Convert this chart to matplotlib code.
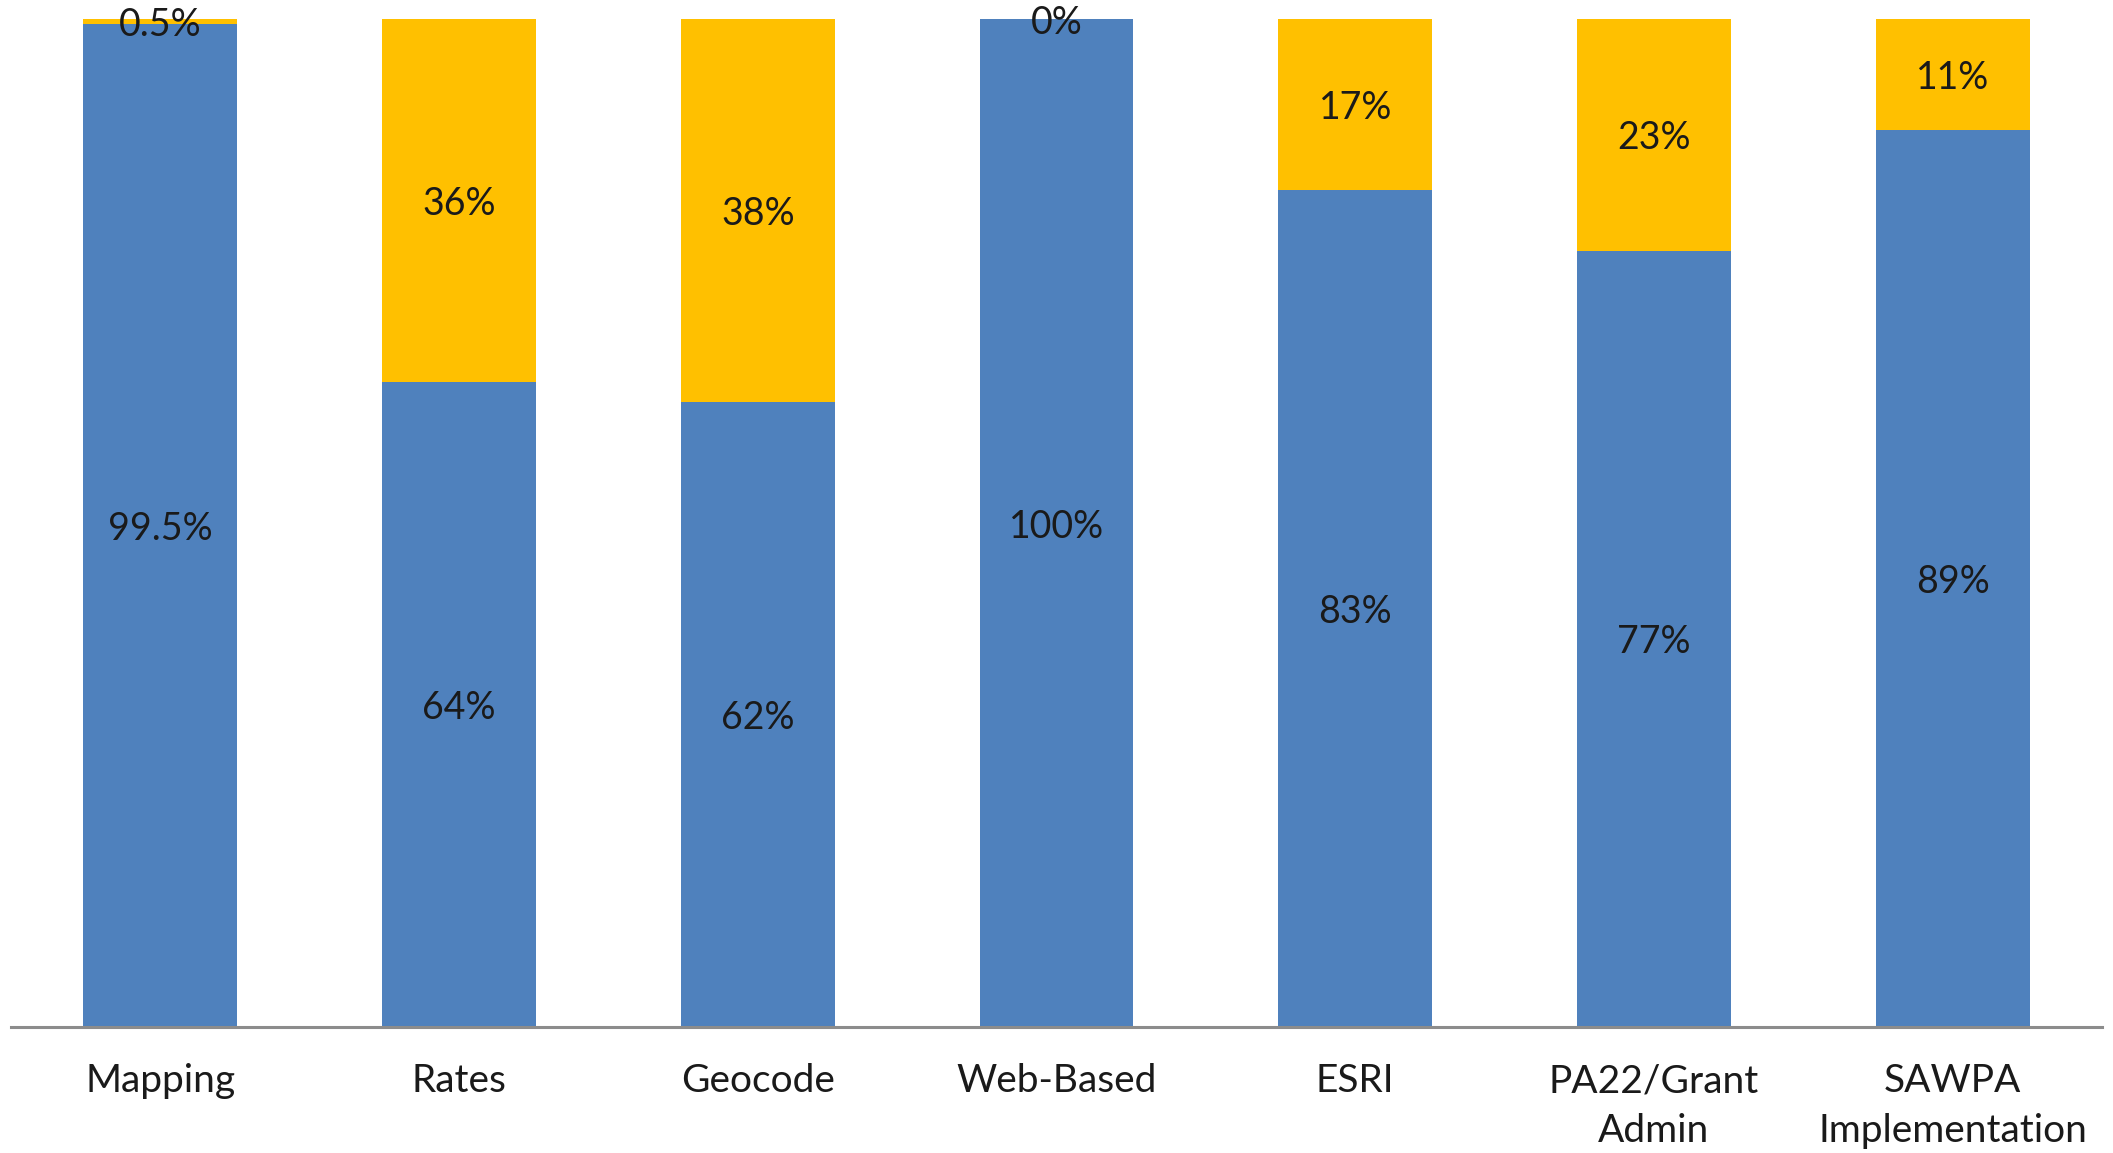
import matplotlib
matplotlib.use("Agg")
import matplotlib.pyplot as plt

CATEGORIES = ["Mapping", "Rates", "Geocode", "Web-Based", "ESRI",
              "PA22/Grant\nAdmin", "SAWPA\nImplementation"]
BLUE_VALS = [99.5, 64, 62, 100, 83, 77, 89]
ORANGE_VALS = [0.5, 36, 38, 0, 17, 23, 11]
BLUE_LABELS = ["99.5%", "64%", "62%", "100%", "83%", "77%", "89%"]
ORANGE_LABELS = ["0.5%", "36%", "38%", "0%", "17%", "23%", "11%"]

BLUE = "#4F81BD"
ORANGE = "#FFC000"
FS = 27


def main():
    plt.rcParams["font.family"] = ["Lato", "DejaVu Sans"]
    fig = plt.figure(figsize=(21.13, 11.53), dpi=100)
    ax = fig.add_axes([11 / 2113, 0.1093, (2102 - 11) / 2113, 0.9835 - 0.1093])

    x = list(range(len(CATEGORIES)))
    ax.bar(x, BLUE_VALS, width=0.515, color=BLUE)
    ax.bar(x, ORANGE_VALS, width=0.515, bottom=BLUE_VALS, color=ORANGE)

    # labels sit a touch below the geometric centre, like Excel's
    nudge = 0.35
    for i in x:
        b, o = BLUE_VALS[i], ORANGE_VALS[i]
        ax.text(i, b / 2 - nudge, BLUE_LABELS[i], ha="center", va="center",
                fontsize=FS, color="#1a1a1a")
        ax.text(i, b + o / 2 - nudge, ORANGE_LABELS[i], ha="center",
                va="center", fontsize=FS, color="#1a1a1a")

    ax.set_xlim(-0.5, len(CATEGORIES) - 0.5)
    ax.set_ylim(0, 100)
    for side in ("top", "right", "left"):
        ax.spines[side].set_visible(False)
    ax.spines["bottom"].set_color("#8c8c8c")
    ax.spines["bottom"].set_linewidth(2.2)
    ax.set_yticks([])
    ax.set_xticks(x)
    ax.set_xticklabels(CATEGORIES, fontsize=28, color="#1a1a1a",
                       linespacing=1.48, va="top")
    ax.tick_params(axis="x", length=0, pad=26)

    fig.savefig("out.png", dpi=100)


if __name__ == "__main__":
    main()
